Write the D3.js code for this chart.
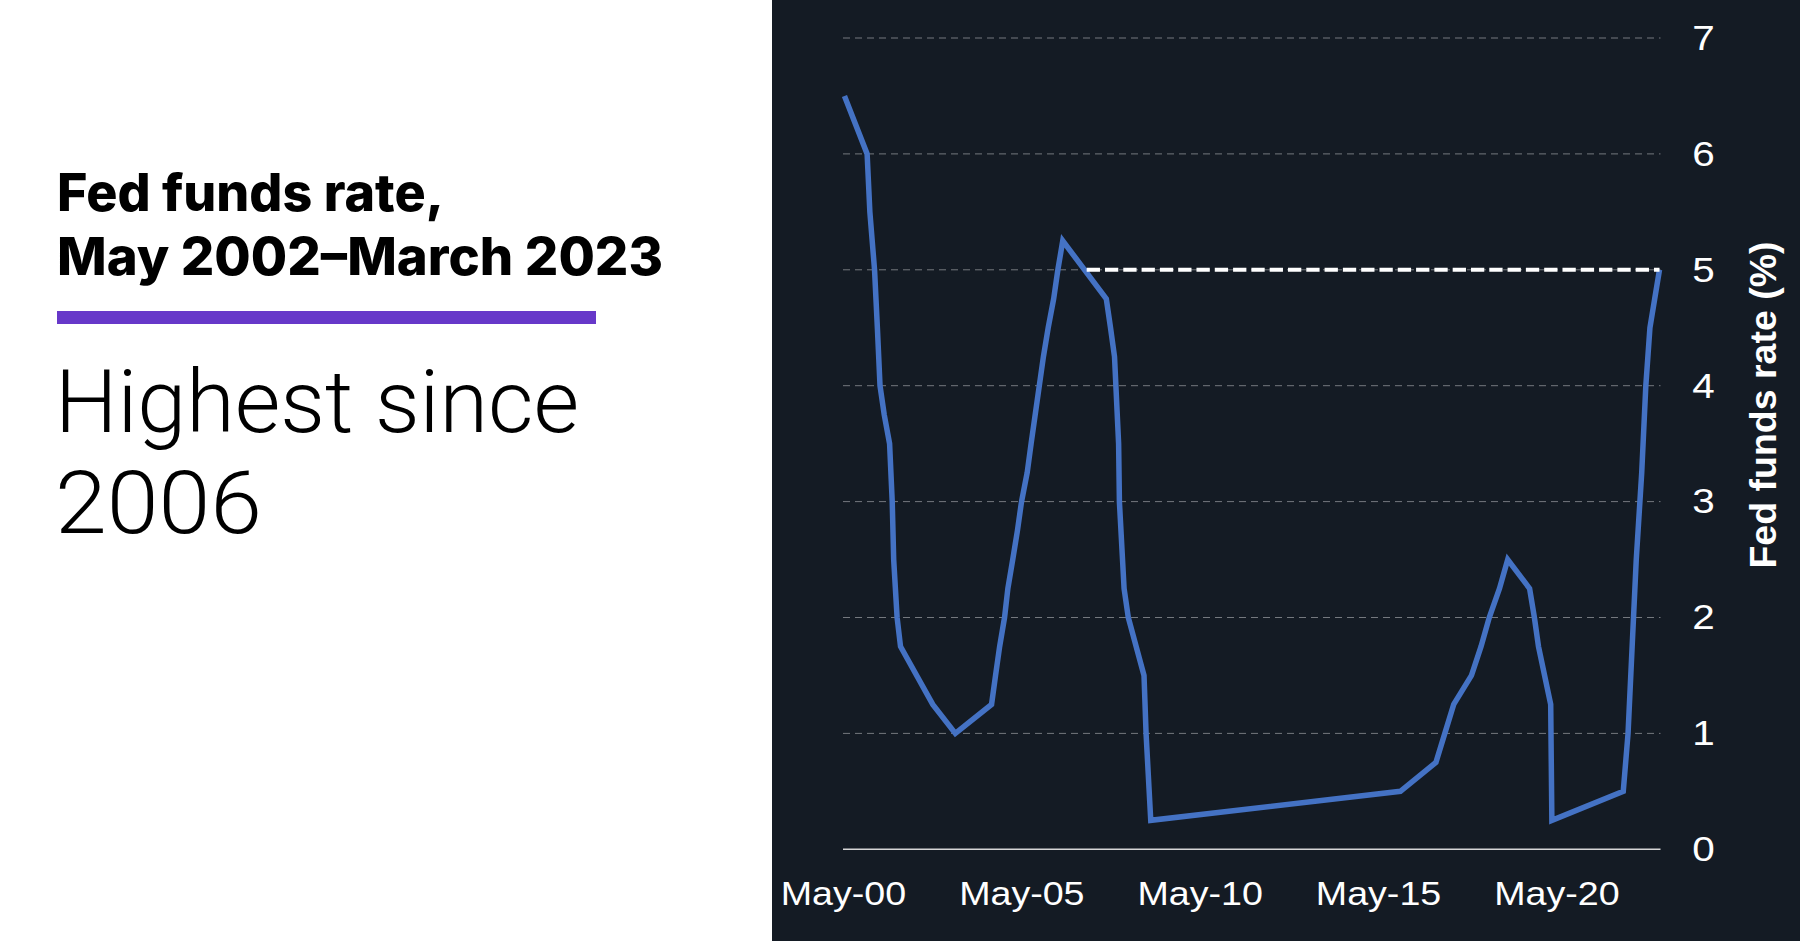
<!DOCTYPE html>
<html><head><meta charset="utf-8">
<script src="https://cdn.jsdelivr.net/npm/d3@7"></script>
<style>html,body{margin:0;padding:0;background:#fff;} svg{display:block}</style>
</head><body>
<svg id="c" width="1800" height="941"></svg>
<script>
// ---- data (fed funds target rate, upper bound, at each change) ----
const rateDates = [
 "2000-05-16","2001-01-03","2001-01-31","2001-03-20","2001-04-18","2001-05-15","2001-06-27","2001-08-21",
 "2001-09-17","2001-10-02","2001-11-06","2001-12-11","2002-11-06","2003-06-25","2004-06-30","2004-08-10",
 "2004-09-21","2004-11-10","2004-12-14","2005-02-02","2005-03-22","2005-05-03","2005-06-30","2005-08-09",
 "2005-09-20","2005-11-01","2005-12-13","2006-01-31","2006-03-28","2006-05-10","2006-06-29","2007-09-18",
 "2007-10-31","2007-12-11","2008-01-22","2008-01-30","2008-03-18","2008-04-30","2008-10-08","2008-10-29",
 "2008-12-16","2015-12-16","2016-12-14","2017-03-15","2017-06-14","2017-12-13","2018-03-21","2018-06-13",
 "2018-09-26","2018-12-19","2019-07-31","2019-09-18","2019-10-30","2020-03-03","2020-03-15","2022-03-16",
 "2022-05-04","2022-06-15","2022-07-27","2022-09-21","2022-11-02","2022-12-14","2023-02-01","2023-03-22"
];
const rateValues = [
 6.5,6.0,5.5,5.0,4.5,4.0,3.75,3.5,
 3.0,2.5,2.0,1.75,1.25,1.0,1.25,1.5,
 1.75,2.0,2.25,2.5,2.75,3.0,3.25,3.5,
 3.75,4.0,4.25,4.5,4.75,5.0,5.25,4.75,
 4.5,4.25,3.5,3.0,2.25,2.0,1.5,1.0,
 0.25,0.5,0.75,1.0,1.25,1.5,1.75,2.0,
 2.25,2.5,2.25,2.0,1.75,1.25,0.25,0.5,
 1.0,1.75,2.5,3.25,4.0,4.5,4.75,5.0
];
const xDomain = ["2000-05-01","2023-03-22"];
const xTickDates = ["2000-05-01","2005-05-01","2010-05-01","2015-05-01","2020-05-01"];
const yTickValues = [0,1,2,3,4,5,6,7];
const refLineValue = 5;
const refLineDates = ["2007-03-01","2023-03-22"];
const titleLines = ["Fed funds rate,","May 2002–March 2023"];
const headlineLines = ["Highest since","2006"];
const yAxisTitle = "Fed funds rate (%)";

// ---- drawing ----
const parse = d3.timeParse("%Y-%m-%d");
const svg = d3.select("#c");
const W = 1800, H = 941;
const panelX = 772;
const plot = {left: 843, right: 1659.5, top: 38, bottom: 849.3};

svg.append("rect").attr("x",0).attr("y",0).attr("width",W).attr("height",H).attr("fill","#ffffff");
svg.append("rect").attr("x",panelX).attr("y",0).attr("width",W-panelX).attr("height",H).attr("fill","#141b24");

// left text panel
const tg = svg.append("g");
tg.selectAll("text.title").data(titleLines).join("text")
  .attr("class","title")
  .attr("x",57).attr("y",(d,i)=>211 + i*64)
  .attr("font-family","Inter, 'Liberation Sans', Arial, sans-serif")
  .attr("font-weight",800).attr("font-size",52)
  .attr("fill","#000")
  .attr("textLength",(d,i)=>[387,606][i]).attr("lengthAdjust","spacingAndGlyphs")
  .text(d=>d);
tg.append("rect").attr("x",57).attr("y",311).attr("width",539).attr("height",13).attr("fill","#6738c9");
tg.selectAll("text.head").data(headlineLines).join("text")
  .attr("class","head")
  .attr("x",55).attr("y",(d,i)=>431.7 + i*101.6)
  .attr("font-family","Roboto, sans-serif")
  .attr("font-weight",300).attr("font-size",87)
  .attr("fill","#000")
  .attr("textLength",(d,i)=>[524,207][i]).attr("lengthAdjust","spacingAndGlyphs")
  .text(d=>d);

// scales
const x = d3.scaleTime().domain(xDomain.map(parse)).range([plot.left, plot.right]);
const y = d3.scaleLinear().domain([0,7]).range([plot.bottom, plot.top]);

// gridlines
svg.append("g").selectAll("line").data(yTickValues.filter(v=>v>0)).join("line")
  .attr("x1",plot.left).attr("x2",plot.right+1)
  .attr("y1",d=>y(d)).attr("y2",d=>y(d))
  .attr("stroke","#74787e").attr("stroke-width",1).attr("stroke-dasharray","7,5");
// zero axis line
svg.append("line").attr("x1",plot.left).attr("x2",plot.right+1)
  .attr("y1",y(0)).attr("y2",y(0)).attr("stroke","#d6d6d6").attr("stroke-width",1.6);

// x axis
const xAxis = d3.axisBottom(x).tickValues(xTickDates.map(parse))
  .tickFormat(d3.timeFormat("%b-%y")).tickSize(0).tickPadding(32);
const gx = svg.append("g").attr("transform",`translate(0,${y(0)})`).call(xAxis);
gx.select(".domain").remove();
gx.selectAll("text").attr("fill","#ffffff")
  .attr("font-family","'Liberation Sans', Arial, sans-serif").attr("font-size",33)
  .attr("transform","scale(1.14,1)");

// y axis (right)
const yAxis = d3.axisRight(y).tickValues(yTickValues).tickFormat(d3.format("d")).tickSize(0).tickPadding(0);
const gy = svg.append("g").attr("transform","translate(1703.5,0)").call(yAxis);
gy.select(".domain").remove();
gy.selectAll("text").attr("fill","#ffffff").attr("text-anchor","middle").attr("x",0)
  .attr("font-family","'Liberation Sans', Arial, sans-serif").attr("font-size",35.5)
  .attr("transform","scale(1.14,1)");

// axis title
svg.append("text")
  .attr("transform","translate(1776,405) rotate(-90)")
  .attr("text-anchor","middle")
  .attr("font-family","'Liberation Sans', Arial, sans-serif").attr("font-weight",700).attr("font-size",37.5)
  .attr("fill","#ffffff").text(yAxisTitle);

// data line
const series = rateDates.map((d,i)=>({date:parse(d), value:rateValues[i]}));
const line = d3.line().x(d=>x(d.date)).y(d=>y(d.value));
svg.append("path").datum(series).attr("d",line)
  .attr("fill","none").attr("stroke","#4472c4").attr("stroke-width",5.5)
  .attr("stroke-linejoin","miter").attr("stroke-linecap","butt");

// reference dashed line
svg.append("line")
  .attr("x1",x(parse(refLineDates[0]))).attr("x2",x(parse(refLineDates[1])))
  .attr("y1",y(refLineValue)).attr("y2",y(refLineValue))
  .attr("stroke","#ffffff").attr("stroke-width",4).attr("stroke-dasharray","13.3,5");
</script>
</body></html>
